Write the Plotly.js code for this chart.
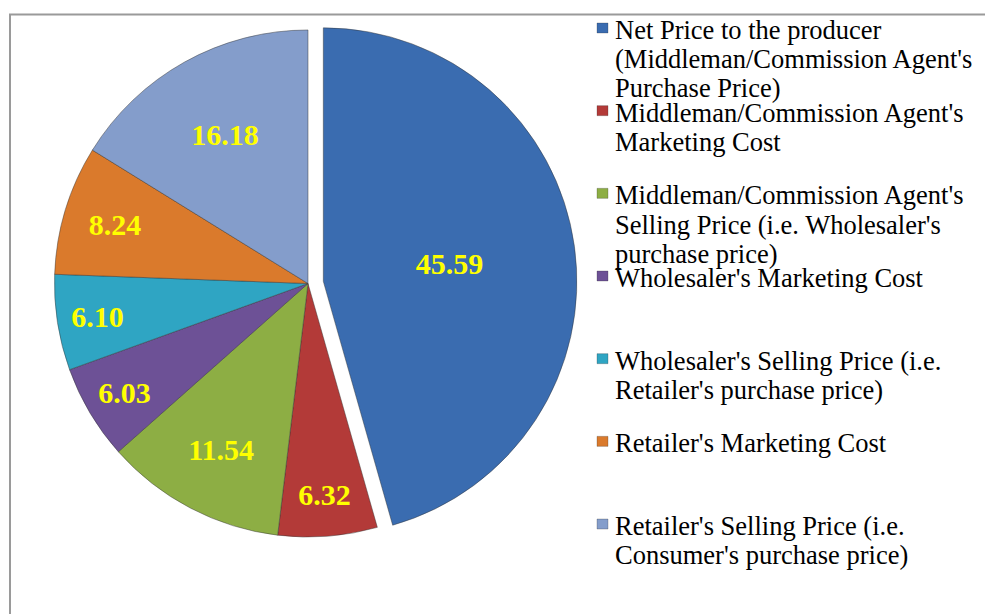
<!DOCTYPE html>
<html>
<head>
<meta charset="utf-8">
<script src="https://cdn.plot.ly/plotly-3.0.1.min.js"></script>
<style>
  html, body { margin: 0; padding: 0; background: #ffffff; }
  #chart { width: 985px; height: 614px; }
</style>
</head>
<body>
<div id="chart"></div>
<script>
// ---- data ----
var labelLines = [
  ["Net Price to the producer", "(Middleman/Commission Agent's", "Purchase Price)"],
  ["Middleman/Commission Agent's", "Marketing Cost"],
  ["Middleman/Commission Agent's", "Selling Price (i.e. Wholesaler's", "purchase price)"],
  ["Wholesaler's Marketing Cost"],
  ["Wholesaler's Selling Price (i.e.", "Retailer's purchase price)"],
  ["Retailer's Marketing Cost"],
  ["Retailer's Selling Price (i.e.", "Consumer's purchase price)"]
];
var values = [45.59, 6.32, 11.54, 6.03, 6.10, 8.24, 16.18];
var colors = ["#3A6CB0", "#B33A38", "#8DAE44", "#6D5196", "#2FA5C3", "#DA7A2C", "#849DCB"];
var pulls = [0.061, 0, 0, 0, 0, 0, 0];

var labels = labelLines.map(function (l) { return l.join(" "); });

// ---- layout constants ----
var W = 985, H = 614;
var SERIF = "Liberation Serif, Times New Roman, serif";
var LEG_X_MARK0 = 597, LEG_X_MARK1 = 608, LEG_X_TEXT = 613;
var LEG_TOP = 30, LEG_STEP = 82.67, LINE_STEP = 29.2, MARK_HALF = 5;

function px(x) { return x / W; }
function py(y) { return 1 - y / H; }

var trace = {
  type: "pie",
  labels: labels,
  values: values,
  sort: false,
  direction: "clockwise",
  rotation: 0,
  pull: pulls,
  marker: { colors: colors, line: { color: "rgba(50,50,50,0.45)", width: 1 } },
  texttemplate: "%{value:.2f}",
  textposition: "inside",
  insidetextorientation: "horizontal",
  textfont: { family: SERIF, size: 30, color: "#FFFF00", weight: "bold" },
  hoverinfo: "label+value",
  domain: { x: [px(39), px(577)], y: [py(552.5), py(14.5)] },
  showlegend: false
};

var annotations = [];
var shapes = [
  { type: "rect", xref: "paper", yref: "paper",
    x0: px(10), x1: 1.05, y0: -0.05, y1: py(14.5),
    line: { color: "#9a9a9a", width: 2 }, fillcolor: "rgba(0,0,0,0)", layer: "below" }
];

labelLines.forEach(function (lines, i) {
  var yc = LEG_TOP + i * LEG_STEP;
  shapes.push({
    type: "rect", xref: "paper", yref: "paper",
    x0: px(LEG_X_MARK0), x1: px(LEG_X_MARK1),
    y0: py(yc - 2 + MARK_HALF), y1: py(yc - 2 - MARK_HALF),
    fillcolor: colors[i], line: { color: "rgba(40,40,40,0.5)", width: 0.5 }
  });
  lines.forEach(function (t, j) {
    annotations.push({
      xref: "paper", yref: "paper",
      x: px(LEG_X_TEXT), y: py(yc + j * LINE_STEP),
      xanchor: "left", yanchor: "middle",
      text: t, showarrow: false,
      font: { family: SERIF, size: 26.5, color: "#000000" }
    });
  });
});

var layout = {
  width: W, height: H,
  margin: { l: 0, r: 0, t: 0, b: 0, pad: 0 },
  paper_bgcolor: "#ffffff",
  showlegend: false,
  shapes: shapes,
  annotations: annotations
};

Plotly.newPlot("chart", [trace], layout, { displayModeBar: false, staticPlot: true });
</script>
</body>
</html>
